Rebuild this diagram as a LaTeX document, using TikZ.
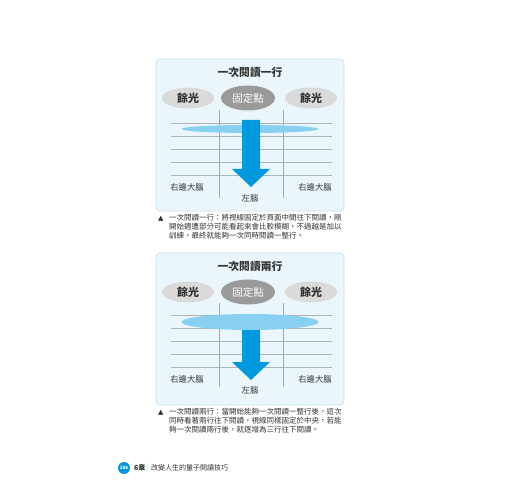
\documentclass[tikz,border=0pt]{standalone}
\usepackage{fontspec}
\setmainfont{Noto Sans CJK TC}
\newfontfamily\symf{DejaVu Sans}
\usetikzlibrary{shapes.geometric}
\definecolor{panelfill}{HTML}{EAF6FC}
\definecolor{panelline}{HTML}{C6E4F3}
\definecolor{greyell}{HTML}{DADADA}
\definecolor{darkell}{HTML}{9A9A9A}
\definecolor{hline}{HTML}{A9B3BB}
\definecolor{vline}{HTML}{72B8DE}
\definecolor{lightblue}{HTML}{88CFF2}
\definecolor{arrowblue}{HTML}{0099DD}
\definecolor{txt}{HTML}{333333}
\tikzset{
  panel/.style={draw=panelline, fill=panelfill, line width=0.8pt, rounded corners=4pt},
  title/.style={font=\fontsize{10.8}{12}\selectfont\bfseries, text=txt},
  sidebox/.style={ellipse, fill=greyell, minimum width=52pt, minimum height=21pt, inner sep=0pt, font=\fontsize{11}{12}\selectfont\bfseries, text=txt},
  fixbox/.style={ellipse, fill=darkell, minimum width=54pt, minimum height=25pt, inner sep=0pt, font=\fontsize{10.5}{12}\selectfont, text=white},
  hl/.style={draw=hline, line width=0.6pt},
  vl/.style={draw=vline, line width=0.6pt},
  brain/.style={font=\fontsize{8.3}{10}\selectfont, text=txt},
  bigarrow/.style={fill=arrowblue, draw=none},
  caption/.style={anchor=north west, inner sep=0pt, align=left, font=\fontsize{7.5}{9}\selectfont, text=txt},
  marker/.style={font=\symf\fontsize{7}{8}\selectfont, text=txt, anchor=north west, inner sep=0pt},
}
\begin{document}
\begin{tikzpicture}[x=1pt,y=-1pt]
\useasboundingbox (0,0) rectangle (520,500);
\fill[white] (0,0) rectangle (520,500);

% ---------------- Panel 1 ----------------
\draw[panel] (156,59) rectangle (344,211);
\node[title] (t1) at (250,72) {一次閱讀一行};
\node[sidebox] (l1) at (188,98) {餘光};
\node[fixbox] (f1) at (248,98) {固定點};
\node[sidebox] (r1) at (311,98) {餘光};
\foreach \yy in {123,136,149,162,175} \draw[hl] (171,\yy) -- (332,\yy);
\draw[vl] (219,110) -- (219,198);
\draw[vl] (283,110) -- (283,198);
\node[ellipse, fill=lightblue, minimum width=137pt, minimum height=8pt, inner sep=0pt] (e1) at (250,129) {};
\fill[bigarrow] (242,120) -- (260,120) -- (260,169) -- (270,169) -- (251,187) -- (232,169) -- (242,169) -- cycle;
\node[brain] (rb1a) at (187,187) {右邊大腦};
\node[brain] (rb1b) at (315,187) {右邊大腦};
\node[brain] (lb1) at (250,198) {左腦};
\node[marker] (m1) at (158,215.5) {▲};
\node[caption] (c1) at (169,214) {一次閱讀一行：將視線固定於頁面中間往下閱讀，剛\\開始週遭部分可能看起來會比較模糊，不過越是加以\\訓練，最終就能夠一次同時閱讀一整行。};

% ---------------- Panel 2 ----------------
\draw[panel] (156,253) rectangle (344,405);
\node[title] (t2) at (250,266) {一次閱讀兩行};
\node[sidebox] (l2) at (188,292) {餘光};
\node[fixbox] (f2) at (248,292) {固定點};
\node[sidebox] (r2) at (311,292) {餘光};
\foreach \yy in {315,328,341,354,367} \draw[hl] (171,\yy) -- (332,\yy);
\draw[vl] (219,303) -- (219,387);
\draw[vl] (283,303) -- (283,387);
\fill[bigarrow] (242,328) -- (260,328) -- (260,362) -- (270,362) -- (251,380) -- (232,362) -- (242,362) -- cycle;
\node[ellipse, fill=lightblue, minimum width=137pt, minimum height=16pt, inner sep=0pt] (e2) at (250,322) {};
\node[brain] (rb2a) at (187,379) {右邊大腦};
\node[brain] (rb2b) at (315,379) {右邊大腦};
\node[brain] (lb2) at (250,390) {左腦};
\node[marker] (m2) at (158,409.5) {▲};
\node[caption] (c2) at (169,408) {一次閱讀兩行：當開始能夠一次閱讀一整行後，這次\\同時看著兩行往下閱讀，視線同樣固定於中央，若能\\夠一次閱讀兩行後，就逐增為三行往下閱讀。};

% ---------------- Footer ----------------
\node[circle, fill=arrowblue, minimum size=12pt, inner sep=0pt, text=white, font=\fontsize{4.5}{5}\selectfont\bfseries] (pg) at (124,468) {186};
\node[anchor=west, inner sep=0pt, font=\fontsize{7}{8}\selectfont\bfseries, text=txt] (ch) at (134,468) {6章};
\node[anchor=west, inner sep=0pt, font=\fontsize{7}{8}\selectfont, text=lightblue] (bar) at (146,468) {|};
\node[anchor=west, inner sep=0pt, font=\fontsize{7}{8}\selectfont, text=txt] (bk) at (151,468) {改變人生的量子閱讀技巧};
\end{tikzpicture}
\end{document}
